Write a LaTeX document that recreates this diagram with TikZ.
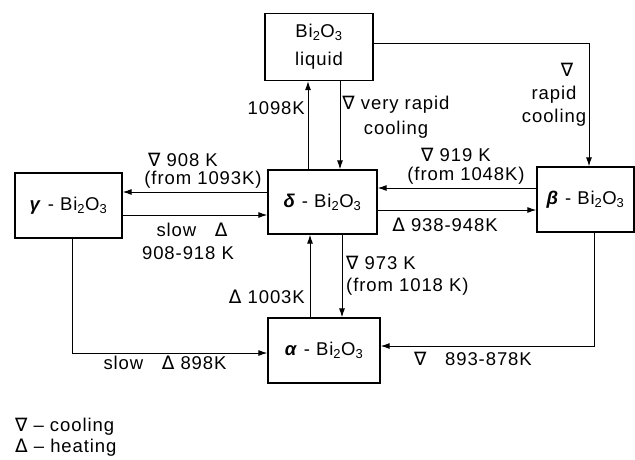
\documentclass[tikz,border=0pt]{standalone}
\usepackage{fontspec}
\setmainfont{Liberation Sans}[LetterSpace=5]
\newfontfamily\symfont{DejaVu Sans}
\usetikzlibrary{arrows.meta}
\newcommand{\bio}{Bi\textsubscript{2}O\textsubscript{3}}
\newcommand{\cool}{{\symfont ∇}}
\newcommand{\heat}{{\symfont Δ}}
\newcommand{\grk}[1]{\textbf{\textit{#1}}}

\begin{document}
\begin{tikzpicture}[x=1pt, y=-1pt,
    phase/.style={draw, line width=1.3pt, inner sep=2pt,
        font=\fontsize{18.5}{28}\selectfont, align=center},
    lab/.style={font=\fontsize{18.5}{22}\selectfont, inner sep=0pt, align=center},
    arr/.style={line width=1pt, -{Latex[length=9pt, width=6pt]}},
  ]
  \useasboundingbox (0,0) rectangle (635,459);

  % Phases
  \node[phase, minimum width=108pt, minimum height=67pt] (liq) at (319,47) {\bio\\liquid};
  \node[phase, minimum width=109pt, minimum height=64pt] (dlt) at (322.5,202) {\grk{δ} - \bio};
  \node[phase, minimum width=107pt, minimum height=65pt] (gam) at (68.5,205.5) {\grk{γ} - \bio};
  \node[phase, minimum width=97pt, minimum height=65pt] (bet) at (585.5,199.5) {\grk{β} - \bio};
  \node[phase, minimum width=112pt, minimum height=65pt] (alp) at (324,350.5) {\grk{α} - \bio};

  % delta <-> liquid
  \draw[arr] ([xshift=-14.5pt]dlt.north) -- ([xshift=-14.5pt]dlt.north |- liq.south);
  \draw[arr] ([xshift=21pt]liq.south) -- ([xshift=21pt]liq.south |- dlt.north);
  \node[lab, anchor=east] (l1098) at (305,108) {1098K};
  \node[lab, font=\fontsize{18.5}{25}\selectfont] (lvrc) at (396,117) {\cool{} very rapid\\cooling};

  % liquid -> beta
  \draw[arr] ([yshift=4pt]liq.east) -| ([xshift=3.5pt]bet.north);
  \node[lab, font=\fontsize{18.5}{23}\selectfont] (lrc) at (554,95) {\hspace*{26pt}\cool\\rapid\\cooling};

  % delta <-> gamma
  \draw[arr] ([yshift=10pt]dlt.west) -- ([yshift=10pt]dlt.west -| gam.east);
  \draw[arr] ([yshift=-13pt]dlt.west -| gam.east) -- ([yshift=-13pt]dlt.west);
  \node[lab] (l908) at (183,160) {\cool{} 908 K};
  \node[lab] (l1093) at (203,180) {(from 1093K)};
  \node[lab] (lslow) at (192,230) {slow\quad\heat};
  \node[lab] (l918) at (188,253) {908-918 K};

  % delta <-> beta
  \draw[arr] ([yshift=11.5pt]bet.west) -- ([yshift=11.5pt]bet.west -| dlt.east);
  \draw[arr] ([yshift=-8pt]dlt.east) -- ([yshift=-8pt]dlt.east -| bet.west);
  \node[lab] (l919) at (456,155) {\cool{} 919 K};
  \node[lab] (l1048) at (466,176) {(from 1048K)};
  \node[lab] (l938) at (445,225) {\heat{} 938-948K};

  % delta <-> alpha
  \draw[arr] ([xshift=-14pt]alp.north) -- ([xshift=-14pt]alp.north |- dlt.south);
  \draw[arr] ([xshift=19.5pt]dlt.south) -- ([xshift=19.5pt]dlt.south |- alp.north);
  \node[lab, anchor=east] (l1003) at (305,297) {\heat{} 1003K};
  \node[lab, anchor=west, align=left] (l973) at (346,276) {\cool{} 973 K\\(from 1018 K)};

  % gamma, beta -> alpha
  \draw[arr] ([xshift=3.5pt]gam.south) |- ([yshift=-2.5pt]alp.west);
  \draw[arr] ([xshift=8.5pt]bet.south) |- ([yshift=4.5pt]alp.east);
  \node[lab] (l898) at (165,363) {slow\quad\heat{} 898K};
  \node[lab] (l893) at (473,359) {\cool\quad 893-878K};

  % Key
  \node[lab, anchor=west] (kcool) at (15,427) {\cool{} -- cooling};
  \node[lab, anchor=west] (kheat) at (15,448) {\heat{} -- heating};
\end{tikzpicture}
\end{document}
